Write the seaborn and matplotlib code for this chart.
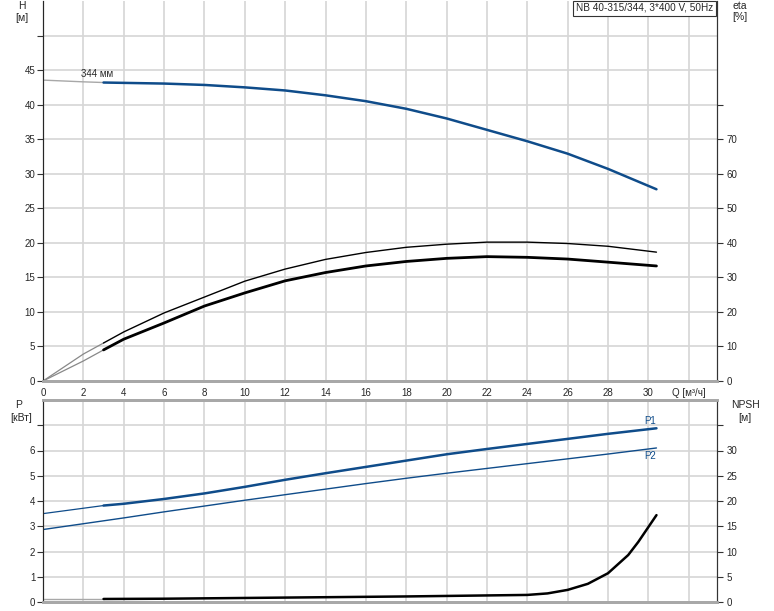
import numpy as np
import matplotlib
matplotlib.use('Agg')
import matplotlib.pyplot as plt
import seaborn as sns

# --- data ---
q_ticks = [0, 2, 4, 6, 8, 10, 12, 14, 16, 18, 20, 22, 24, 26, 28, 30, 32]

# head H [m]
q_h_thin = [0, 2, 3]
h_thin = [43.55, 43.3, 43.2]
q_h = [3, 4, 6, 8, 10, 12, 14, 16, 18, 20, 22, 24, 26, 28, 30.4]
h = [43.2, 43.15, 43.05, 42.85, 42.5, 42.05, 41.35, 40.5, 39.4, 38.0, 36.35, 34.7, 32.9, 30.7, 27.75]

# efficiency eta [%]
q_eta_thin = [0, 2, 3]
eta1_thin = [0, 7.8, 11.0]
eta2_thin = [0, 5.8, 9.0]
q_eta = [3, 4, 6, 8, 10, 12, 14, 16, 18, 20, 22, 24, 26, 28, 30.4]
eta1 = [11.0, 14.2, 19.7, 24.3, 28.9, 32.4, 35.2, 37.2, 38.7, 39.6, 40.2, 40.2, 39.8, 39.0, 37.3]
eta2 = [9.0, 12.1, 16.8, 21.7, 25.5, 29.0, 31.4, 33.3, 34.6, 35.5, 36.0, 35.8, 35.3, 34.4, 33.3]

# power P [kW]
q_p1_thin = [0, 3]
p1_thin = [3.50, 3.82]
q_p1 = [3, 4, 6, 8, 10, 12, 14, 16, 18, 20, 22, 24, 26, 28, 30.4]
p1 = [3.82, 3.89, 4.08, 4.30, 4.56, 4.84, 5.10, 5.35, 5.60, 5.85, 6.06, 6.26, 6.46, 6.66, 6.88]
q_p2 = [0, 2, 4, 6, 8, 10, 12, 14, 16, 18, 20, 22, 24, 26, 28, 30.4]
p2 = [2.87, 3.10, 3.33, 3.57, 3.80, 4.03, 4.25, 4.47, 4.69, 4.90, 5.10, 5.29, 5.48, 5.67, 5.86, 6.10]

# NPSH [m]
q_npsh_thin = [0, 3]
npsh_thin = [0.6, 0.6]
q_npsh = [3, 6, 10, 14, 18, 20, 22, 24, 25, 26, 27, 28, 29, 29.5, 30.4]
npsh = [0.6, 0.65, 0.8, 0.95, 1.1, 1.2, 1.3, 1.4, 1.7, 2.4, 3.6, 5.7, 9.3, 11.9, 17.2]

BLUE = '#0f4c8a'
GRAY = '#a8a8a8'
DARK = '#333333'
GRID = '#d6d6d6'

sns.set_style('white')
plt.rcParams['font.family'] = ['Liberation Sans', 'DejaVu Sans']
plt.rcParams['font.size'] = 7

W, H = 774, 611
fig = plt.figure(figsize=(W / 100, H / 100), dpi=100)


def px(x0, y0, x1, y1):
    return [x0 / W, 1 - y1 / H, (x1 - x0) / W, (y1 - y0) / H]


ax = fig.add_axes(px(43, 1, 717, 381))
ax2 = ax.twinx()
bx = fig.add_axes(px(43, 400, 717, 602))
bx2 = bx.twinx()

# --- top: H and eta ---
sns.lineplot(x=q_h_thin, y=h_thin, ax=ax, color=GRAY, lw=1.0, errorbar=None)
sns.lineplot(x=q_h, y=h, ax=ax, color=BLUE, lw=1.8, errorbar=None)
sns.lineplot(x=q_eta_thin, y=eta1_thin, ax=ax2, color='#888888', lw=0.9, errorbar=None)
sns.lineplot(x=q_eta_thin, y=eta2_thin, ax=ax2, color='#888888', lw=0.9, errorbar=None)
sns.lineplot(x=q_eta, y=eta1, ax=ax2, color='black', lw=1.0, errorbar=None)
sns.lineplot(x=q_eta, y=eta2, ax=ax2, color='black', lw=2.0, errorbar=None)
ax.text(2.7, 44.4, '344 мм', ha='center', va='center', fontsize=7)

# --- bottom: P and NPSH ---
sns.lineplot(x=q_p1_thin, y=p1_thin, ax=bx, color=BLUE, lw=0.9, errorbar=None)
sns.lineplot(x=q_p1, y=p1, ax=bx, color=BLUE, lw=1.8, errorbar=None)
sns.lineplot(x=q_p2, y=p2, ax=bx, color=BLUE, lw=1.0, errorbar=None)
sns.lineplot(x=q_npsh_thin, y=npsh_thin, ax=bx2, color=GRAY, lw=1.0, errorbar=None)
sns.lineplot(x=q_npsh, y=npsh, ax=bx2, color='black', lw=1.8, errorbar=None)
bx.text(30.1, 7.15, 'P1', ha='center', va='center', color=BLUE, fontsize=7)
bx.text(30.1, 5.8, 'P2', ha='center', va='center', color=BLUE, fontsize=7)

# --- axes formatting ---
for a in (ax, bx):
    a.set_xlim(0, 33.4)
    a.set_xticks(q_ticks)
    a.grid(True, color=GRID, lw=1.2)
    a.set_axisbelow(True)
    a.tick_params(axis='x', length=0, pad=5)
    a.tick_params(axis='y', direction='out', length=4, width=0.8, color=DARK, pad=1.5)
    a.spines['left'].set_color(DARK)
    a.spines['bottom'].set_color(GRAY)
    a.spines['bottom'].set_linewidth(2)
    a.set_xlabel('')
    a.set_ylabel('')

for a in (ax2, bx2):
    a.tick_params(axis='y', direction='out', length=4, width=0.8, color=DARK, pad=3)
    a.spines['right'].set_color(DARK)
    a.spines['bottom'].set_color(GRAY)
    a.spines['bottom'].set_linewidth(2)
    a.grid(False)
    a.set_ylabel('')

ax.spines['top'].set_visible(False)
ax2.spines['top'].set_visible(False)
bx.spines['top'].set_color(GRAY)
bx.spines['top'].set_linewidth(2)
bx2.spines['top'].set_color(GRAY)
bx2.spines['top'].set_linewidth(2)

ax.set_xticklabels([str(t) for t in q_ticks[:-1]] + ['Q [м³/ч]'])
bx.set_xticklabels([])

ax.set_ylim(0, 55)
ax.set_yticks(range(0, 55, 5))
ax.set_yticklabels([str(t) for t in range(0, 50, 5)] + [''])
ax2.set_ylim(0, 110)
ax2.set_yticks(range(0, 90, 10))
ax2.set_yticklabels([str(t) for t in range(0, 80, 10)] + [''])

bx.set_ylim(0, 8)
bx.set_yticks(range(0, 8))
bx.set_yticklabels([str(t) for t in range(0, 7)] + [''])
bx2.set_ylim(0, 40)
bx2.set_yticks(range(0, 40, 5))
bx2.set_yticklabels([str(t) for t in range(0, 35, 5)] + [''])

# --- axis titles ---
def ftext(x, y, s, **kw):
    fig.text(x / W, 1 - y / H, s, ha='center', va='center', fontsize=7.5, **kw)

ftext(22, 6, 'H')
ftext(22, 18, '[м]')
ftext(740, 6, 'eta')
ftext(740, 17, '[%]')
ftext(19, 405, 'P')
ftext(21, 418, '[кВт]')
ftext(745, 405, 'NPSH')
ftext(745, 418, '[м]')

fig.text(713 / W, 1 - 8 / H, 'NB 40-315/344, 3*400 V, 50Hz', ha='right', va='center',
         fontsize=7.2,
         bbox=dict(boxstyle='square,pad=0.25', fc='white', ec=DARK, lw=0.8))

fig.savefig('out.png', dpi=100)
